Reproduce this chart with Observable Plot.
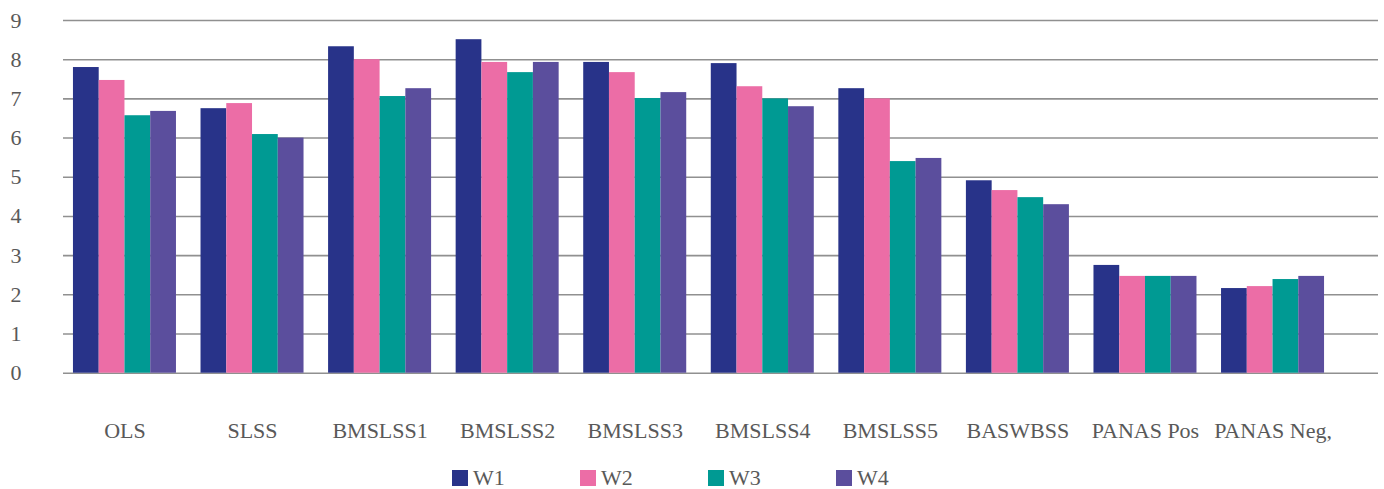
<!DOCTYPE html>
<html>
<head>
<meta charset="utf-8">
<script src="https://cdn.jsdelivr.net/npm/d3@7"></script>
<script src="https://cdn.jsdelivr.net/npm/@observablehq/plot@0.6"></script>
<style>
  html, body { margin: 0; padding: 0; background: #ffffff; }
  #chart { position: relative; width: 1384px; height: 489px; font-family: "Liberation Serif", "Times New Roman", serif; color: #595959; }
  #chart svg { position: absolute; left: 0; top: 0; }
  #chart svg, #chart svg text { font-family: "Liberation Serif", "Times New Roman", serif !important; font-size: 22px; }
  #legend { position: absolute; left: 452px; top: 470px; display: flex; }
  .item { display: flex; align-items: center; width: 128px; height: 16px; font-size: 22px; }
  .sw { width: 16px; height: 16px; margin-right: 5px; flex: none; }
</style>
</head>
<body>
<div id="chart"></div>
<script>
// Scale means per measure, four waves
const categories = ["OLS", "SLSS", "BMSLSS1", "BMSLSS2", "BMSLSS3", "BMSLSS4", "BMSLSS5", "BASWBSS", "PANAS Pos", "PANAS Neg,"];
const series = ["W1", "W2", "W3", "W4"];
const w1 = [7.80, 6.75, 8.33, 8.51, 7.93, 7.90, 7.26, 4.91, 2.75, 2.16];
const w2 = [7.47, 6.88, 8.00, 7.93, 7.67, 7.31, 7.00, 4.66, 2.47, 2.21];
const w3 = [6.57, 6.09, 7.06, 7.67, 7.01, 7.00, 5.40, 4.48, 2.47, 2.39];
const w4 = [6.68, 6.00, 7.26, 7.93, 7.16, 6.80, 5.48, 4.30, 2.47, 2.47];
const yTicks = [0, 1, 2, 3, 4, 5, 6, 7, 8, 9];
const colors = ["#283389", "#ec6da6", "#009a93", "#5b4e9d"];

const values = [w1, w2, w3, w4];
const rows = [];
categories.forEach((c, i) => {
  series.forEach((s, k) => rows.push({category: c, series: s, value: values[k][i]}));
});

const W = 1384, H = 455, TOP = 20, BOTTOM = 82.3;
const font = {fontFamily: "'Liberation Serif', 'Times New Roman', serif", fontSize: "22px", color: "#595959", background: "transparent"};

// Background layer: horizontal gridlines and the value axis
const back = Plot.plot({
  width: W, height: H,
  marginLeft: 63, marginRight: 6, marginTop: TOP, marginBottom: BOTTOM,
  style: font,
  y: {domain: [0, 9], ticks: yTicks, tickSize: 0, tickPadding: 42, label: null, tickFormat: d => String(d)},
  marks: [
    Plot.ruleY(yTicks, {stroke: "#909090", strokeWidth: 1.6})
  ]
});

// Foreground layer: grouped bars, one facet per measure
const front = Plot.plot({
  width: W, height: H,
  marginLeft: 48.4, marginRight: 35.4, marginTop: TOP, marginBottom: BOTTOM,
  style: font,
  fx: {domain: categories, paddingInner: 0.1925, paddingOuter: 0.1925, round: false, label: null, tickSize: 0, tickPadding: 49, axis: "bottom"},
  x: {domain: series, padding: 0, round: false, axis: null},
  y: {domain: [0, 9], axis: null},
  color: {domain: series, range: colors},
  marks: [
    Plot.barY(rows, {fx: "category", x: "series", y: "value", fill: "series"})
  ]
});

const chart = document.getElementById("chart");
chart.appendChild(back);
chart.appendChild(front);

// Legend row beneath the plot
const legend = document.createElement("div");
legend.id = "legend";
series.forEach((s, k) => {
  const item = document.createElement("div");
  item.className = "item";
  const sw = document.createElement("span");
  sw.className = "sw";
  sw.style.background = colors[k];
  const label = document.createElement("span");
  label.textContent = s;
  item.appendChild(sw);
  item.appendChild(label);
  legend.appendChild(item);
});
chart.appendChild(legend);
</script>
</body>
</html>
